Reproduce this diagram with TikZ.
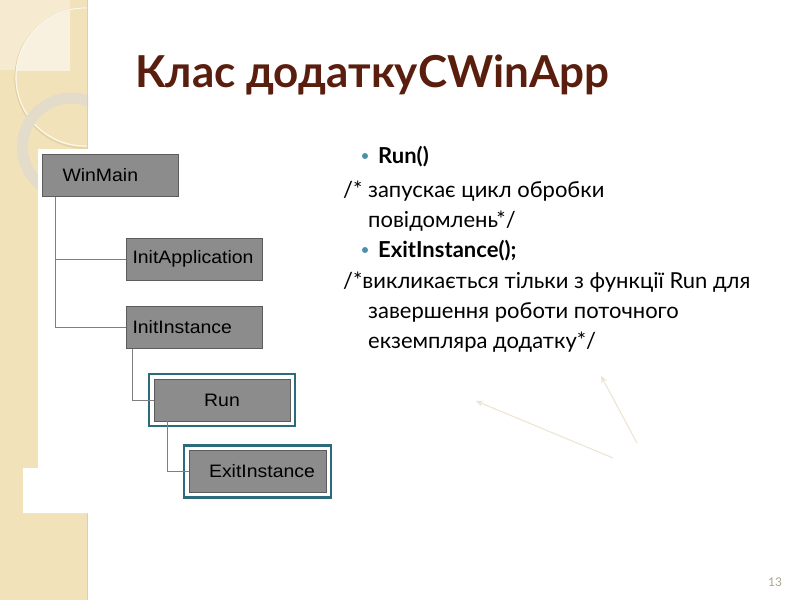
\documentclass[tikz,border=0pt]{standalone}
\usepackage{fontspec}
\setmainfont{Lato}
\newfontfamily\boxfont[FakeStretch=1.08]{Liberation Sans}
\usetikzlibrary{arrows.meta}

\definecolor{stripbeige}{HTML}{F2E2B9}
\definecolor{stripshade}{HTML}{E2CFA0}
\definecolor{cornerbeige}{HTML}{F6EBD0}
\definecolor{lensbeige}{HTML}{F9F1DF}
\definecolor{ringgray}{HTML}{E4DCCA}
\definecolor{boxgray}{HTML}{8C8C8C}
\definecolor{boxline}{HTML}{5C5C5C}
\definecolor{linkgray}{HTML}{7F7F7F}
\definecolor{frameteal}{HTML}{2B6B7C}
\definecolor{titlebrown}{HTML}{5A1E0E}
\definecolor{bulletteal}{HTML}{4A90AC}
\definecolor{faintarrow}{HTML}{EDE4CF}
\definecolor{pagegray}{HTML}{ADA48E}

\begin{document}
\begin{tikzpicture}[x=1pt,y=-1pt,
  box/.style={draw=boxline,fill=boxgray,line width=0.8pt,inner sep=0pt,
    minimum height=42pt,minimum width=136pt,
    font=\boxfont\fontsize{18}{18}\selectfont},
  link/.style={draw=linkgray,line width=0.8pt},
  hilite/.style={draw=frameteal,line width=2.6pt},
  txt/.style={inner sep=0pt,anchor=base west,font=\fontsize{22}{22}\selectfont},
  faint/.style={draw=faintarrow,line width=1pt,-{Stealth[open,length=7pt,width=6pt]}}]

  % 页面
  \useasboundingbox (0,0) rectangle (800,600);
  \fill[white] (0,0) rectangle (800,600);

  % 左侧装饰条
  \begin{scope}
    \clip (0,0) rectangle (88,600);
    \fill[stripbeige] (0,0) rectangle (88,600);
    \fill[cornerbeige] (0,0) rectangle (70,70);
    \begin{scope}
      \clip (0,0) rectangle (70,70);
      \fill[lensbeige] (85,77) circle (70);
    \end{scope}
    \draw[stripshade,line width=1.2pt] (85,78) circle (70);
    \draw[white!60!cornerbeige,line width=1.2pt] (85,77) circle (69);
    \draw[ringgray,line width=11pt] (71.5,147) circle (49);
    \draw[stripshade,line width=1.5pt] (87.5,0) -- (87.5,600);
  \end{scope}

  % 图片的白色底
  \fill[white] (38,149) -- (90,149) -- (90,513) -- (23,513) -- (23,468) -- (38,468) -- cycle;

  % 标题
  \node[inner sep=0pt,anchor=base west,text=titlebrown,
    font=\bfseries\fontsize{44}{44}\selectfont] (title) at (135,87) {Клас додаткуCWinApp};

  % 调用树
  \node[box,text width=96pt,align=left] (winmain) at (110.5,175.5) {WinMain};
  \node[box,text width=124pt,align=left] (initapp) at (194.5,259) {InitApplication};
  \node[box,text width=124pt,align=left] (initinst) at (194.5,327.5) {InitInstance};
  \node[box] (run) at (222,400) {Run};
  \node[box,minimum width=137pt] (exitinst) at (257.5,471.5) {\hspace*{9pt}ExitInstance};

  \draw[hilite] ([shift={(-4.5pt,4.5pt)}]run.north west) rectangle ([shift={(4.5pt,-4.5pt)}]run.south east);
  \draw[hilite] ([shift={(-4.5pt,4.5pt)}]exitinst.north west) rectangle ([shift={(4.5pt,-4.5pt)}]exitinst.south east);

  \draw[link] ([xshift=13pt]winmain.south west) |- (initapp.west);
  \draw[link] ([xshift=13pt]winmain.south west) |- (initinst.west);
  \draw[link] ([xshift=6pt]initinst.south west) |- (run.west);
  \draw[link] ([xshift=14pt]run.south west) |- (exitinst.west);

  % 右侧文字
  \fill[bulletteal] (365,156) circle (3);
  \node[txt,font=\bfseries\fontsize{22}{22}\selectfont] (runline) at (378,163) {Run()};
  \node[txt] (cmt1) at (343,197) {/* запускає цикл обробки};
  \node[txt] (cmt1b) at (368,227) {повідомлень*/};
  \fill[bulletteal] (365,250) circle (3);
  \node[txt,font=\bfseries\fontsize{22}{22}\selectfont] (exitline) at (378,257) {ExitInstance();};
  \node[txt] (cmt2) at (343,288) {/*викликається тільки з функції Run для};
  \node[txt] (cmt2b) at (368,318) {завершення роботи поточного};
  \node[txt] (cmt2c) at (368,348) {екземпляра додатку*/};

  % 浅色箭头
  \coordinate (a1) at (613,458);
  \coordinate (a1e) at (476,401);
  \coordinate (a2) at (637,443);
  \coordinate (a2e) at (601,376);
  \draw[faint] (a1) -- (a1e);
  \draw[faint] (a2) -- (a2e);

  % 页码
  \node[inner sep=0pt,text=pagegray,font=\fontsize{12}{12}\selectfont] (pagenum) at (775,582) {13};
\end{tikzpicture}
\end{document}
